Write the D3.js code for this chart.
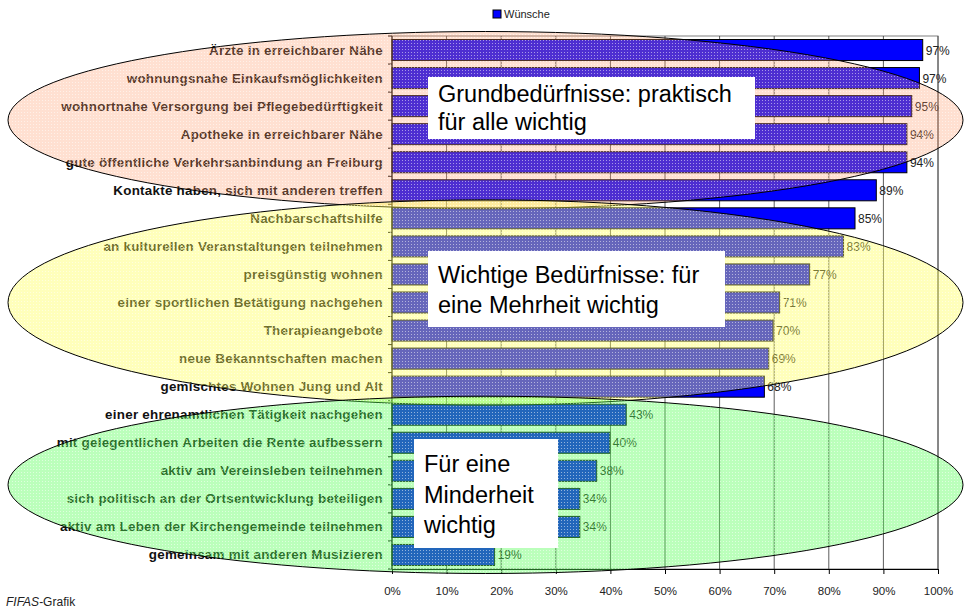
<!DOCTYPE html>
<html>
<head>
<meta charset="utf-8">
<script src="https://cdn.jsdelivr.net/npm/d3@7"></script>
<style>
  body { margin: 0; background: #fff; }
  svg { font-family: "Liberation Sans", Arial, sans-serif; }
</style>
</head>
<body>
<div id="chart"></div>
<script>
// categories, top to bottom
const categories = [
  "Ärzte in erreichbarer Nähe",
  "wohnungsnahe Einkaufsmöglichkeiten",
  "wohnortnahe Versorgung bei Pflegebedürftigkeit",
  "Apotheke in erreichbarer Nähe",
  "gute öffentliche Verkehrsanbindung an Freiburg",
  "Kontakte haben, sich mit anderen treffen",
  "Nachbarschaftshilfe",
  "an kulturellen Veranstaltungen teilnehmen",
  "preisgünstig wohnen",
  "einer sportlichen Betätigung nachgehen",
  "Therapieangebote",
  "neue Bekanntschaften machen",
  "gemischtes Wohnen Jung und Alt",
  "einer ehrenamtlichen Tätigkeit nachgehen",
  "mit gelegentlichen Arbeiten die Rente aufbessern",
  "aktiv am Vereinsleben teilnehmen",
  "sich politisch an der Ortsentwicklung beteiligen",
  "aktiv am Leben der Kirchengemeinde teilnehmen",
  "gemeinsam mit anderen Musizieren"
];
// share "Wünsche" in %
const wuensche = [97.2, 96.6, 95.2, 94.3, 94.3, 88.7, 84.8, 82.7, 76.5, 71.0, 69.8, 69.0, 68.2, 42.9, 39.9, 37.5, 34.4, 34.4, 18.8];
const valueLabels = ["97%", "97%", "95%", "94%", "94%", "89%", "85%", "83%", "77%", "71%", "70%", "69%", "68%", "43%", "40%", "38%", "34%", "34%", "19%"];
const xTicks = [0, 10, 20, 30, 40, 50, 60, 70, 80, 90, 100];

// groups shown as ellipses: first and last category of each group
const groupNames = ["Grundbedürfnisse: praktisch|für alle wichtig", "Wichtige Bedürfnisse: für|eine Mehrheit wichtig", "Für eine|Minderheit|wichtig"];
const groupFirst = [0, 6, 13];
const groupLast = [5, 12, 18];
const groupColors = ["#ff9966", "#ffff55", "#55ff55"];

const W = 965, H = 611;
const margin = {top: 36, right: 27, bottom: 42, left: 392};
const width = W - margin.left - margin.right;
const height = H - margin.top - margin.bottom;

const svg = d3.select("#chart").append("svg")
  .attr("width", W)
  .attr("height", H);

const defs = svg.append("defs");
groupColors.forEach((c, i) => {
  const p = defs.append("pattern")
    .attr("id", "dots" + i)
    .attr("patternUnits", "userSpaceOnUse")
    .attr("width", 3).attr("height", 3);
  p.append("rect").attr("width", 3).attr("height", 3)
    .attr("fill", c).attr("fill-opacity", i === 0 ? 0.3 : 0.4);
  p.append("rect").attr("x", 1).attr("y", 1).attr("width", 1).attr("height", 1)
    .attr("fill", "#fff").attr("fill-opacity", 0.5);
});

const x = d3.scaleLinear().domain([0, 100]).range([0, width]);
const y = d3.scaleBand().domain(categories).range([0, height]).paddingInner(0.25).paddingOuter(0.125);

const g = svg.append("g")
  .attr("transform", "translate(" + margin.left + "," + margin.top + ")");

// plot frame
g.append("rect")
  .attr("width", width).attr("height", height)
  .attr("fill", "#fff").attr("stroke", "#808080");

// vertical grid lines
g.append("g").selectAll("line")
  .data(xTicks.slice(1))
  .join("line")
  .attr("x1", d => x(d)).attr("x2", d => x(d))
  .attr("y1", 0).attr("y2", height)
  .attr("stroke", "#333").attr("stroke-width", 0.8);

// bars
g.append("g").selectAll("rect")
  .data(categories)
  .join("rect")
  .attr("x", 0)
  .attr("y", d => y(d))
  .attr("width", (d, i) => x(wuensche[i]))
  .attr("height", y.bandwidth())
  .attr("fill", "#0000ff")
  .attr("stroke", "#000")
  .attr("stroke-width", 1);

// value labels
g.append("g").selectAll("text")
  .data(categories)
  .join("text")
  .attr("x", (d, i) => x(wuensche[i]) + 3)
  .attr("y", d => y(d) + y.bandwidth() / 2 + 4.5)
  .attr("font-size", 12)
  .attr("fill", "#222")
  .text((d, i) => valueLabels[i]);

// x axis
const xAxis = g.append("g")
  .attr("transform", "translate(0," + height + ")")
  .call(d3.axisBottom(x).tickValues(xTicks).tickFormat(d => d + "%").tickSize(5).tickPadding(13));
xAxis.select(".domain").attr("stroke", "#000");
xAxis.selectAll(".tick line").attr("stroke", "#000");
xAxis.selectAll("text").attr("font-size", 11.5).attr("fill", "#222").attr("font-family", "Liberation Sans, Arial, sans-serif");

// y axis: line with small ticks between categories, bold labels
g.append("line").attr("x1", 0).attr("x2", 0).attr("y1", 0).attr("y2", height).attr("stroke", "#000");
const step = y.step();
g.append("g").selectAll("line")
  .data(d3.range(categories.length + 1))
  .join("line")
  .attr("x1", -4).attr("x2", 0)
  .attr("y1", d => d * step).attr("y2", d => d * step)
  .attr("stroke", "#000");
g.append("g").selectAll("text")
  .data(categories)
  .join("text")
  .attr("x", -9)
  .attr("y", d => y(d) + y.bandwidth() / 2 + 4.5)
  .attr("text-anchor", "end")
  .attr("font-size", 13.4)
  .attr("letter-spacing", 0.25)
  .attr("font-weight", "bold")
  .attr("fill", "#111")
  .text(d => d);

// ellipses over the groups
const ellLeft = 8 - margin.left, ellRight = 963 - margin.left;
const ellipses = g.append("g");
groupFirst.forEach((f, i) => {
  const top = y(categories[f]) - 8;
  const bottom = y(categories[groupLast[i]]) + y.bandwidth() + 8;
  ellipses.append("ellipse")
    .attr("cx", (ellLeft + ellRight) / 2)
    .attr("cy", (top + bottom) / 2)
    .attr("rx", (ellRight - ellLeft) / 2)
    .attr("ry", (bottom - top) / 2)
    .attr("fill", "url(#dots" + i + ")")
    .attr("stroke", "#000")
    .attr("stroke-width", 1);
});

// white text boxes
const boxes = [
  {x: 36, y: 41, w: 327, h: 62, lh: 28},
  {x: 36, y: 215, w: 297, h: 76, lh: 30},
  {x: 22, y: 403, w: 144, h: 109, lh: 30.5}
];
groupNames.forEach((name, i) => {
  const b = boxes[i];
  const bg = g.append("g").attr("transform", "translate(" + b.x + "," + b.y + ")");
  bg.append("rect").attr("width", b.w).attr("height", b.h).attr("fill", "#fff");
  const lines = name.split("|");
  const y0 = (b.h - b.lh * lines.length) / 2 + b.lh * 0.8;
  bg.selectAll("text")
    .data(lines)
    .join("text")
    .attr("x", 10)
    .attr("y", (d, k) => y0 + k * b.lh)
    .attr("font-size", 23.5)
    .attr("fill", "#000")
    .text(d => d);
});

// legend
const legend = svg.append("g").attr("transform", "translate(493,10)");
legend.append("rect").attr("width", 8).attr("height", 8)
  .attr("fill", "#0000ff").attr("stroke", "#000");
legend.append("text").attr("x", 11).attr("y", 8)
  .attr("font-size", 11).attr("fill", "#222").text("Wünsche");

// source note
const note = svg.append("text").attr("x", 6).attr("y", 606).attr("font-size", 12).attr("fill", "#222");
note.append("tspan").attr("font-style", "italic").text("FIFAS");
note.append("tspan").text("-Grafik");
</script>
</body>
</html>
